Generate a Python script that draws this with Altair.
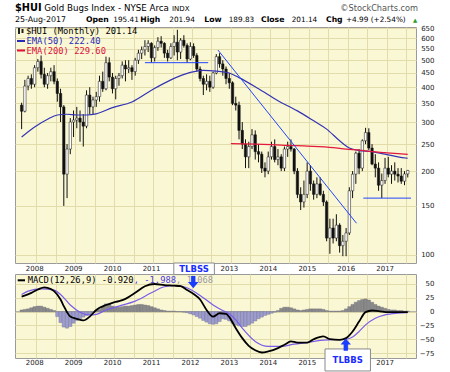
import altair as alt
import pandas as pd

# ---------------- data ----------------
years = [2008, 2009, 2010, 2011, 2012, 2013, 2014, 2015, 2016, 2017]
hidden_top = [2012]      # covered by the TLBSS call-out in the reference
hidden_bottom = [2016]   # covered by the TLBBS call-out in the reference

# monthly candles Sep-2007 .. Aug-2017
opens = [345, 328, 404, 430,
         410, 470, 495, 445, 410, 440, 455, 420, 380, 340, 195, 240,
         300, 305, 310, 300, 290, 375, 340, 360, 370, 420, 395, 490,
         435, 395, 430, 440, 480, 465, 470, 455, 500, 530, 545, 560,
         575, 510, 555, 585, 575, 530, 510, 560, 580, 535, 590, 565,
         505, 560, 520, 465, 430, 410, 420, 400, 450, 515, 485, 465,
         430, 415, 350, 345, 280, 250, 225, 245, 270, 235, 230, 205,
         200, 225, 245, 220, 225, 205, 240, 245, 240, 200, 165, 155,
         165, 200, 180, 165, 180, 165, 155, 115, 125, 115, 128, 108,
         112, 120, 170, 195, 232, 205, 257, 275, 242, 212, 205, 178,
         185, 205, 195, 200, 195, 192, 184, 195.41]
highs = [352, 425, 440, 445,
         480, 505, 520, 470, 450, 470, 480, 430, 395, 345, 250, 310,
         330, 340, 330, 320, 390, 400, 370, 385, 440, 455, 515, 512,
         450, 440, 450, 495, 500, 500, 480, 510, 545, 560, 590, 590,
         580, 565, 605, 610, 580, 545, 575, 615, 643, 600, 615, 575,
         580, 575, 530, 475, 440, 445, 440, 455, 526, 530, 500, 475,
         450, 420, 370, 355, 300, 260, 255, 283, 280, 250, 235, 215,
         235, 255, 260, 240, 230, 245, 255, 260, 242, 205, 175, 185,
         215, 210, 185, 190, 190, 170, 157, 135, 135, 140, 130, 118,
         125, 175, 200, 235, 240, 260, 286, 285, 250, 230, 215, 196,
         223, 225, 210, 215, 205, 205, 200, 201.94]
lows = [283, 325, 390, 395,
        400, 455, 430, 400, 395, 420, 410, 355, 300, 150, 160, 230,
        265, 285, 255, 245, 285, 320, 320, 340, 355, 385, 390, 420,
        380, 362, 405, 430, 420, 450, 425, 440, 485, 505, 520, 535,
        490, 495, 540, 555, 510, 495, 505, 520, 500, 505, 555, 490,
        500, 510, 455, 420, 375, 390, 385, 395, 445, 470, 440, 410,
        395, 345, 330, 260, 240, 205, 205, 240, 220, 215, 197, 190,
        195, 220, 215, 210, 200, 200, 225, 235, 195, 160, 145, 148,
        160, 170, 158, 160, 163, 150, 112, 101, 110, 112, 102, 99,
        99, 118, 160, 180, 195, 200, 250, 238, 210, 190, 170, 160,
        180, 190, 180, 185, 182, 180, 178, 189.83]
closes = [328, 404, 430, 410,
          470, 495, 445, 410, 440, 455, 420, 380, 340, 195, 240, 300,
          305, 310, 300, 290, 375, 340, 360, 370, 420, 395, 490, 435,
          395, 430, 440, 480, 465, 470, 455, 500, 530, 545, 560, 575,
          510, 555, 585, 575, 530, 510, 560, 580, 535, 590, 565, 505,
          560, 520, 465, 430, 410, 420, 400, 450, 515, 485, 465, 430,
          415, 350, 345, 280, 250, 225, 245, 270, 235, 230, 205, 200,
          225, 245, 220, 225, 205, 240, 245, 240, 200, 165, 155, 165,
          200, 180, 165, 180, 165, 155, 115, 125, 115, 128, 108, 112,
          120, 170, 195, 232, 205, 257, 275, 242, 212, 205, 178, 185,
          205, 195, 200, 195, 192, 184, 195.41, 201.14]

ema50_idx = [0, 4, 8, 11, 14, 17, 20, 23, 28, 34, 40, 46, 52, 56, 60, 64, 67, 73,
             79, 85, 90, 94, 98, 101, 104, 108, 112, 116, 119]
ema50_val = [265, 288, 307, 318, 320, 318, 318, 321, 338, 354, 390, 425, 452, 460,
             457, 450, 433, 395, 358, 329, 303, 283, 257, 242, 237, 235, 230, 225, 222.4]
ema200_idx = [64.5, 72, 80, 88, 96, 100, 104, 108, 112, 116, 119]
ema200_val = [251, 250, 248, 246, 243, 240, 238, 235, 233, 231, 229.6]

# hand-drawn trend lines
tl_group = ["top", "top", "down", "down", "floor", "floor"]
tl_idx = [38, 57.5, 60.5, 103.2, 105.3, 120]
tl_val = [490, 490, 544, 130, 160, 160]

macd_idx = [0, 3, 5, 7, 9, 10, 12, 13, 14, 15, 17, 19, 21, 23, 26, 28, 30, 32, 35,
            38, 41, 44, 47, 49, 51, 53, 55, 57, 59, 61, 63, 64, 66, 68, 70, 72, 74,
            76, 79, 81, 83, 85, 88, 90, 93, 95, 98, 100, 102, 104, 106, 108, 110,
            113, 116, 119]
macd_val = [27, 34, 40, 44, 41, 37, 22, 10, -1, -9, -13, -16, -9, 3, 12, 16, 19, 23,
            34, 46, 50, 48, 47, 46, 39, 32, 22, 3, -9, -3, -4, -10, -30, -48, -62,
            -70, -74, -72, -66, -60, -54, -56, -56, -50, -45, -50, -51, -48, -36,
            -18, -1, 2, 1, -1, -1, -0.92]
sig_idx = [0, 2, 6, 10, 12, 15, 18, 21, 23, 26, 30, 35, 40, 44, 47, 50, 53, 56, 59,
           62, 64, 66, 68, 72, 76, 80, 84, 88, 92, 96, 100, 102, 104, 106, 109, 112,
           116, 119]
sig_val = [31, 37, 41, 39, 31, 12, -1, -6, -5, 3, 10, 19, 34, 45, 47, 45, 37, 25, 12,
           2, -4, -15, -30, -54, -63, -63, -59, -56, -52, -51, -50, -46, -36, -24,
           -12, -6, -3, -1.988]
hist_val = [3, 4, 5, 7, 9, 10, 10, 8, 6, 4, 2,
            -9, -20, -28, -30, -27, -21, -16, -13, -10, -7, -5, -2,
            2, 4, 9, 14, 13, 10, 8, 8, 9, 10, 10, 11, 12, 13, 13, 12, 11, 9, 7, 5,
            3, 2, 1, 1, 1, 0, 0,
            -1, -2, -4, -6, -9, -12, -16, -19, -22, -23, -22, -18, -13, -14, -17,
            -21, -24, -26, -27, -27, -24, -21, -17, -13, -10, -7, -5, -3, -1, 2,
            6, 8, 8, 7, 5, 3, 2, 3, 4, 5, 5, 5, 5, 4, 2, 1, 1, 1, 1, 2,
            5, 9, 13, 17, 20, 22, 23, 21, 17, 13, 10, 8, 6, 4, 3, 3, 2, 2, 1, 1.07]

price_ticks = [100, 150, 200, 250, 300, 350, 400, 450, 500, 550, 600, 650]
macd_ticks = [-75, -50, -25, 0, 25, 50]

# annotation anchors in data units (month index, value)
tlbss_box = dict(i=46.9, i2=59.4, v=88, v2=67)
tlbss_arrow = dict(i=52.9, v=53.5)
tlbbs_box = dict(i=93.5, i2=107.5, v=-67.6, v2=-107.5)
tlbbs_arrow = dict(i=99.9, v=-59.6)

n = len(closes)
assert len(opens) == len(highs) == len(lows) == n == len(hist_val) == 120

# ---------------- frames ----------------
cdf = pd.DataFrame({"i": list(range(n)), "o": opens, "h": highs, "l": lows, "c": closes})
e50 = pd.DataFrame({"i": ema50_idx, "v": ema50_val})
e200 = pd.DataFrame({"i": ema200_idx, "v": ema200_val})
tdf = pd.DataFrame({"i": tl_idx, "v": tl_val, "g": tl_group})
mdf = pd.DataFrame({"i": macd_idx, "v": macd_val})
sdf = pd.DataFrame({"i": sig_idx, "v": sig_val})
hdf = pd.DataFrame({"i": list(range(n)), "v": hist_val})
one = pd.DataFrame({"k": [0]})

# ---------------- styles ----------------
PANEL = "#faf7d5"
GRID = "#e2dcab"
W, H1, H2 = 401, 236, 84
SANS = "DejaVu Sans"
MONO = "DejaVu Sans Mono"

grid_vals = [4.5 + 6 * k for k in range(20)]


def label_expr(hidden):
    parts = [f"datum.value == {4.5 + 12 * k} ? '{y}'"
             for k, y in enumerate(years) if y not in hidden]
    return " : ".join(parts) + " : ''"


xscale = alt.Scale(domain=[-0.5, 120], nice=False, zero=False)
pscale = alt.Scale(type="log", domain=[93.6, 658], nice=False)
mscale = alt.Scale(domain=[-84, 68.1], nice=False, zero=False)


def xaxis(pad, hidden):
    return alt.Axis(values=grid_vals, labelExpr=label_expr(hidden), title=None, grid=True,
                    ticks=False, tickSize=0, domain=False, labelPadding=pad,
                    labelOffset=-2, labelFlush=False, labelOverlap=False,
                    labelFont=SANS, labelFontSize=7, labelColor="#222",
                    gridColor=GRID, labelBaseline="top")


def yaxis(vals):
    return alt.Axis(values=vals, orient="right", title=None, grid=True, ticks=False,
                    tickSize=0, domain=False, labelAlign="right", labelPadding=18,
                    labelFlush=False, labelOverlap=False, format="d",
                    labelFont=SANS, labelFontSize=7, labelColor="#222",
                    gridColor=GRID, labelBaseline="middle")


XT = alt.X("i:Q", scale=xscale, axis=xaxis(1.5, hidden_top))
XB = alt.X("i:Q", scale=xscale, axis=xaxis(0.5, hidden_bottom))
YP = yaxis(price_ticks)
YM = yaxis(macd_ticks)


def txt(text, x, y, size, color="#000", weight="normal", font=SANS, align="left",
        baseline="alphabetic"):
    return alt.Chart(one).mark_text(
        text=text, fontSize=size, color=color, fontWeight=weight, font=font,
        align=align, baseline=baseline).encode(x=alt.value(x), y=alt.value(y))


def dash(x1, x2, y, color, w=2):
    return alt.Chart(one).mark_rule(color=color, strokeWidth=w).encode(
        x=alt.value(x1), x2=alt.value(x2), y=alt.value(y))


# ---------------- price panel ----------------
wicks = alt.Chart(cdf).mark_rule(color="#111", strokeWidth=1).encode(
    x=XT, y=alt.Y("l:Q", scale=pscale, axis=YP), y2="h:Q")
bodies = alt.Chart(cdf).mark_bar(size=2.4, stroke="#111", strokeWidth=0.5).encode(
    x=XT, y=alt.Y("o:Q", scale=pscale, axis=YP), y2="c:Q",
    fill=alt.condition("datum.c < datum.o", alt.value("#111"), alt.value("#ffffff")))
ema50_line = alt.Chart(e50).mark_line(color="#3434b4", strokeWidth=1.2,
                                      interpolate="monotone").encode(
    x=XT, y=alt.Y("v:Q", scale=pscale, axis=YP))
ema200_line = alt.Chart(e200).mark_line(color="#e4183c", strokeWidth=1.2,
                                        interpolate="monotone").encode(
    x=XT, y=alt.Y("v:Q", scale=pscale, axis=YP))
trend = alt.Chart(tdf).mark_line(color="#2244ff", strokeWidth=1).encode(
    x=XT, y=alt.Y("v:Q", scale=pscale, axis=YP), detail="g:N")

fs = 8.8
cw = 0.602 * fs
price_legend = [
    alt.Chart(one).mark_rect(color="#222").encode(
        x=alt.value(3), x2=alt.value(5), y=alt.value(1), y2=alt.value(7)),
    alt.Chart(one).mark_rect(color="#222").encode(
        x=alt.value(6.5), x2=alt.value(8.5), y=alt.value(2), y2=alt.value(6)),
    txt("$HUI (Monthly) 201.14", 11, 4, fs, font=MONO, baseline="middle"),
    dash(2, 10, 14, "#2a2ab8"),
    txt("EMA(50) 222.40", 11.5, 14, fs, "#2a2ab8", font=MONO, baseline="middle"),
    dash(2, 10, 23.5, "#e0103a"),
    txt("EMA(200) 229.60", 11.5, 23.5, fs, "#e0103a", font=MONO, baseline="middle"),
]

L2 = 7.3
header = [
    txt("$HUI", 0, -16, 9.8, weight="bold"),
    txt("Gold Bugs Index - NYSE Arca", 29.3, -16, 8.7),
    txt("INDX", 157, -16, 7),
    txt("\u00a9StockCharts.com", 403, -16, 8.2, "#555", align="right"),
    txt("25-Aug-2017", 0, -5, 7.9),
    txt("Open", 71, -5, L2 + 0.4, weight="bold"),
    txt("195.41", 98.3, -5, L2),
    txt("High", 125.3, -5, L2 + 0.4, weight="bold"),
    txt("201.94", 154.3, -5, L2),
    txt("Low", 189.3, -5, L2 + 0.4, weight="bold"),
    txt("189.83", 213.7, -5, L2),
    txt("Close", 246, -5, L2 + 0.4, weight="bold"),
    txt("201.14", 276.7, -5, L2),
    txt("Chg", 311, -5, L2 + 0.4, weight="bold"),
    txt("+4.99 (+2.54%)", 331, -5, L2),
    txt("\u25b2", 398, -5.5, 5.5, "#2a9d2a"),
]

top = alt.layer(wicks, bodies, ema50_line, ema200_line, trend,
                *price_legend, *header).properties(width=W, height=H1)

# ---------------- MACD panel ----------------
zero = alt.Chart(pd.DataFrame({"v": [0]})).mark_rule(color="#9a9a9a", strokeWidth=0.8).encode(
    y=alt.Y("v:Q", scale=mscale, axis=YM))
hist = alt.Chart(hdf).mark_bar(size=3.3, stroke="#6a6a7a", strokeWidth=0.35).encode(
    x=XB, y=alt.Y("v:Q", scale=mscale, axis=YM), y2=alt.datum(0),
    fill=alt.condition("datum.v >= 0", alt.value("#8a8a8a"), alt.value("#9c9cd2")))
sig_line = alt.Chart(sdf).mark_line(color="#7a5ce8", strokeWidth=1.2,
                                    interpolate="monotone").encode(
    x=XB, y=alt.Y("v:Q", scale=mscale, axis=YM))
macd_line = alt.Chart(mdf).mark_line(color="#000", strokeWidth=1.8,
                                     interpolate="monotone").encode(
    x=XB, y=alt.Y("v:Q", scale=mscale, axis=YM))

t1 = "MACD(12,26,9) -0.920"
t2 = ", -1.988"
t3 = ", 1.068"
mx = 12.7
macd_legend = [
    dash(2.7, 10, 6.3, "#000"),
    txt(t1, mx, 6.3, fs, font=MONO, baseline="middle"),
    txt(t2, mx + len(t1) * cw, 6.3, fs, "#4a3ae0", font=MONO, baseline="middle"),
    txt(t3, mx + (len(t1) + len(t2)) * cw, 6.3, fs, "#9a9a9a", font=MONO,
        baseline="middle"),
]

down_arrow = "M-0.35,-1L0.35,-1L0.35,0L0.85,0L0,1L-0.85,0L-0.35,0Z"
up_arrow = "M-0.35,1L0.35,1L0.35,0L0.85,0L0,-1L-0.85,0L-0.35,0Z"


def box(b):
    d = pd.DataFrame({"i": [b["i"]], "i2": [b["i2"]], "v": [b["v"]], "v2": [b["v2"]]})
    return alt.Chart(d).mark_rect(fill="#ffffff", stroke="#8a8a8a", strokeWidth=1).encode(
        x=XB, x2="i2:Q", y=alt.Y("v:Q", scale=mscale, axis=YM), y2="v2:Q")


def box_text(b, label):
    d = pd.DataFrame({"i": [(b["i"] + b["i2"]) / 2], "v": [(b["v"] + b["v2"]) / 2]})
    return alt.Chart(d).mark_text(text=label, font=SANS, fontSize=8.5, fontWeight="bold",
                                  color="#1a2cff", baseline="middle").encode(
        x=XB, y=alt.Y("v:Q", scale=mscale, axis=YM))


def arrow(a, shape):
    d = pd.DataFrame({"i": [a["i"]], "v": [a["v"]]})
    return alt.Chart(d).mark_point(shape=shape, filled=True, size=150, color="#1a3cff",
                                   opacity=1, strokeWidth=0).encode(
        x=XB, y=alt.Y("v:Q", scale=mscale, axis=YM))


bottom = alt.layer(
    zero, hist, sig_line, macd_line, *macd_legend,
    box(tlbss_box), box_text(tlbss_box, "TLBSS"), arrow(tlbss_arrow, down_arrow),
    box(tlbbs_box), box_text(tlbbs_box, "TLBBS"), arrow(tlbbs_arrow, up_arrow),
).properties(width=W, height=H2)

chart = alt.vconcat(top, bottom, spacing=11, bounds="flush").properties(
    padding={"left": 14, "top": 2, "right": 4, "bottom": 0},
    background="#ffffff",
).configure_view(fill=PANEL, stroke="#9a9a9a", strokeWidth=1)

chart.save("out.html", embed_options={"renderer": "svg", "actions": False})
